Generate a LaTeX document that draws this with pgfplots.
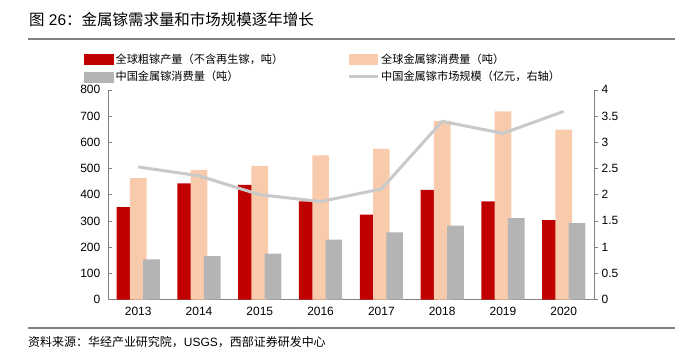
\documentclass[border=0pt]{standalone}
\usepackage{pgfplots}
\pgfplotsset{compat=1.18}
\usepackage{fontspec}
\setmainfont{Liberation Sans}
\newfontfamily\cjk{Noto Sans CJK SC}
\definecolor{cred}{HTML}{C00000}
\definecolor{cpeach}{HTML}{F8CBAD}
\definecolor{cgray}{HTML}{B4B4B4}
\definecolor{cline}{HTML}{C9C9C9}
\definecolor{caxis}{HTML}{808080}
\begin{document}
\begin{tikzpicture}[x=1pt,y=1pt]
\path (0,0) rectangle (676,360);
% title
\node[anchor=west,inner sep=0] at (29,340) {\fontsize{15.5}{17}\selectfont{\cjk 图} 26{\cjk ：金属镓需求量和市场规模逐年增长}};
\draw[line width=2pt,color=caxis] (28,321.3) -- (676,321.3);
\draw[line width=2pt,color=caxis] (28,31.7) -- (676,31.7);
\node[anchor=west,inner sep=0] at (28,17) {\fontsize{12}{14}\selectfont{\cjk 资料来源：华经产业研究院，}USGS{\cjk ，西部证券研发中心}};
\begin{axis}[
  at={(108pt,60pt)}, anchor=south west,
  width=487pt, height=210pt, scale only axis,
  xmin=-0.5, xmax=7.5, ymin=0, ymax=800,
  axis y line*=left, axis x line*=bottom,
  axis line style={color=caxis, line width=0.6pt},
  ytick={0,100,...,800},
  xtick={0,...,7},
  xticklabels={2013,2014,2015,2016,2017,2018,2019,2020},
  extra x ticks={0.5,1.5,...,6.5},
  extra x tick labels={},
  extra x tick style={major tick length=4pt, tick style={color=caxis}},
  major x tick style={draw=none},
  tick align=inside,
  major tick length=4pt,
  tick style={color=caxis, line width=0.6pt},
  ticklabel style={font=\fontsize{12}{14}\selectfont},
  /pgf/number format/assume math mode=true,
  yticklabel style={xshift=-4pt},
  ybar, bar width=16.7pt,
  ]
\addplot[fill=cred, draw=none, bar shift=-13.3pt] coordinates {(0,353) (1,443) (2,438) (3,375) (4,324) (5,418) (6,375) (7,303)};
\addplot[fill=cpeach, draw=none, bar shift=0pt] coordinates {(0,463) (1,495) (2,510) (3,550) (4,575) (5,682) (6,718) (7,648)};
\addplot[fill=cgray, draw=none, bar shift=13.3pt] coordinates {(0,153) (1,166) (2,175) (3,229) (4,256) (5,282) (6,311) (7,292)};
\end{axis}
\begin{axis}[
  at={(108pt,60pt)}, anchor=south west,
  width=487pt, height=210pt, scale only axis,
  xmin=-0.5, xmax=7.5, ymin=0, ymax=4,
  axis y line*=right, axis x line=none,
  axis line style={color=caxis, line width=0.6pt},
  ytick={0,0.5,...,4},
  yticklabels={0,0.5,1,1.5,2,2.5,3,3.5,4},
  tick align=outside,
  major tick length=4pt,
  tick style={color=caxis, line width=0.6pt},
  ticklabel style={font=\fontsize{12}{14}\selectfont},
  legend style={at={(-0.049,1.181)}, anchor=north west, draw=none, fill=none,
    inner sep=0pt, font=\fontsize{11.2}{13}\selectfont\cjk,
    row sep=2pt,
    /tikz/every even column/.append style={column sep=62pt},
    nodes={inner sep=2pt}},
  legend columns=2, legend cell align=left,
  ]
\addlegendimage{legend image code/.code={\fill[cred] (0pt,-5pt) rectangle (29pt,5pt);}}
\addlegendentry{全球粗镓产量（不含再生镓，吨）}
\addlegendimage{legend image code/.code={\fill[cpeach] (0pt,-5pt) rectangle (29pt,5pt);}}
\addlegendentry{全球金属镓消费量（吨）}
\addlegendimage{legend image code/.code={\fill[cgray] (0pt,-5pt) rectangle (29pt,5pt);}}
\addlegendentry{中国金属镓消费量（吨）}
\addplot[color=cline, line width=3pt, mark=none,
  legend image code/.code={\draw[cline, line width=3pt] (0pt,0pt) -- (29pt,0pt);}]
  coordinates {(0,2.53) (1,2.36) (2,2.0) (3,1.87) (4,2.11) (5,3.40) (6,3.17) (7,3.59)};
\addlegendentry{中国金属镓市场规模（亿元，右轴）}
\end{axis}
\end{tikzpicture}
\end{document}
